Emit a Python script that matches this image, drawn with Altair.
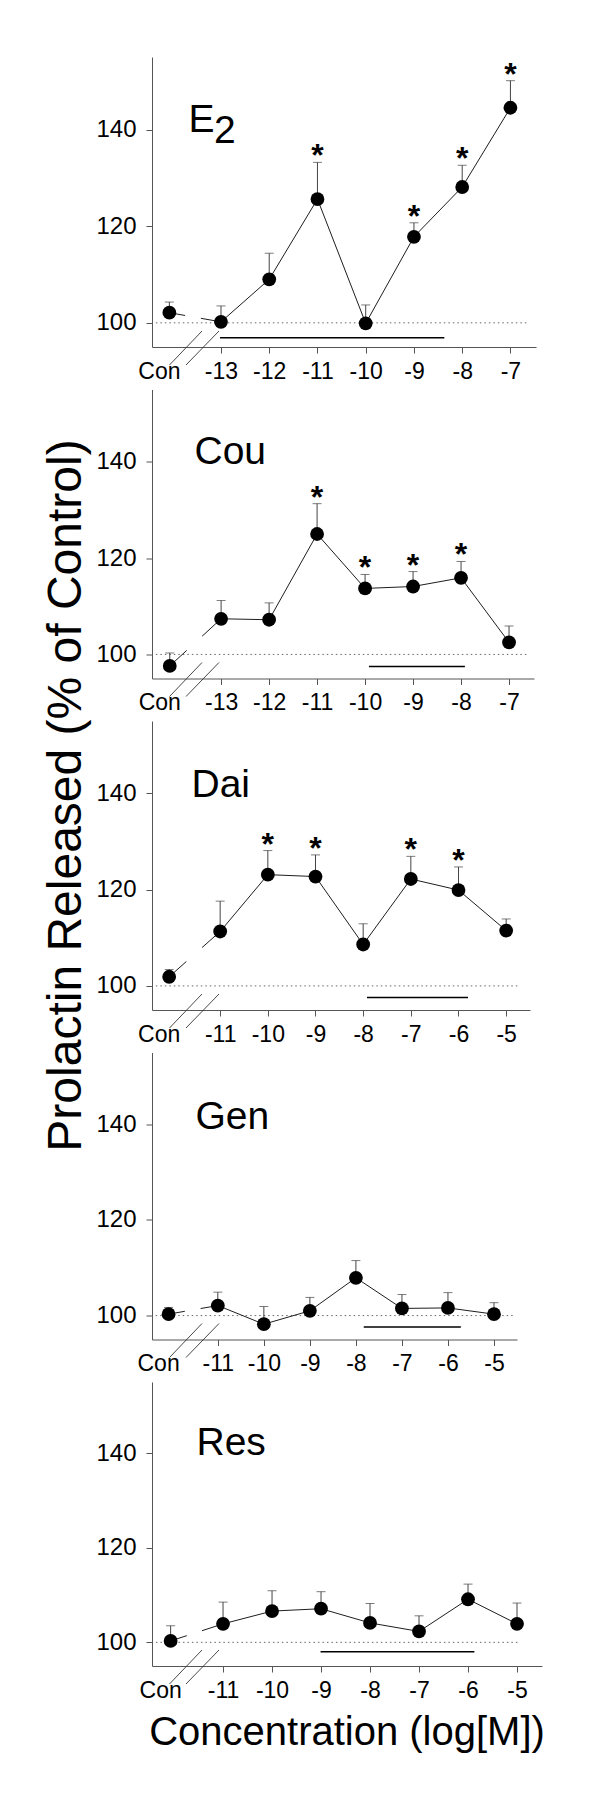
import altair as alt
import pandas as pd

FONT = "Liberation Sans"

# ---------------- data ----------------
panel_names = ["E2", "Cou", "Dai", "Gen", "Res"]

conc_e2 = [-13, -12, -11, -10, -9, -8, -7]
conc_phy = [-11, -10, -9, -8, -7, -6, -5]

e2_mean = [100.2, 109.0, 125.6, 99.9, 117.8, 128.1, 144.5]
e2_sem = [3.3, 5.4, 7.6, 3.8, 2.9, 4.5, 5.6]
cou_mean = [107.4, 107.2, 125.0, 113.7, 114.1, 115.9, 102.5]
cou_sem = [3.8, 3.5, 6.3, 2.9, 3.1, 3.4, 3.4]
dai_mean = [111.3, 123.1, 122.7, 108.6, 122.2, 119.9, 111.5]
dai_sem = [6.3, 5.0, 4.5, 4.3, 4.7, 4.8, 2.4]
gen_mean = [102.1, 98.2, 101.0, 107.9, 101.5, 101.6, 100.3]
gen_sem = [2.8, 3.7, 2.8, 3.6, 2.9, 3.2, 2.4]
res_mean = [103.9, 106.6, 107.1, 104.1, 102.3, 109.1, 103.9]
res_sem = [4.6, 4.3, 3.6, 4.1, 3.3, 3.2, 4.4]

control_mean = [102.1, 97.6, 101.9, 100.3, 100.3]
control_sem = [2.2, 2.7, 1.5, 1.4, 3.2]

e2_sig = [-11, -9, -8, -7]
cou_sig = [-11, -10, -9, -8]
dai_sig = [-10, -9, -7, -6]
gen_sig = []
res_sig = []

# exposure bar (start, end, level)
bar_start = [-13.02, -9.92, -7.92, -7.83, -9.01]
bar_end = [-8.37, -7.92, -5.80, -5.72, -5.87]
bar_level = [96.9, 97.5, 97.6, 97.6, 98.0]

# ---------------- layout / style ----------------
widths = [384, 382, 378, 365, 390]
heights = [290, 289, 289, 287, 284]
x_domains = [[-14.43, -6.47], [-14.44, -6.48], [-12.43, -4.5], [-12.43, -4.5], [-12.45, -4.49]]
con_offset = 1.07
dotted_end = [-6.65, -6.6, -4.71, -4.57, -4.96]
con_dash = [[16, 16, 80], [23, 21, 80], [23, 21, 80], [16.5, 16, 80], [17, 16, 80]]
title_x = [36.5, 42.5, 39.5, 43.5, 44.5]
title_y = [75, 74, 76, 76, 73]

LINE_COL = "#1e1e1e"
ERR_COL = "#444444"
AXIS_COL = "#555555"

concs = [conc_e2, conc_e2, conc_phy, conc_phy, conc_phy]
means = [e2_mean, cou_mean, dai_mean, gen_mean, res_mean]
sems = [e2_sem, cou_sem, dai_sem, gen_sem, res_sem]
sigs = [e2_sig, cou_sig, dai_sig, gen_sig, res_sig]


def make_panel(i):
    conc, mean, sem = concs[i], means[i], sems[i]
    w, h = widths[i], heights[i]
    con_x = conc[0] - con_offset
    df = pd.DataFrame({"x": conc, "y": mean, "top": [m + s for m, s in zip(mean, sem)]})
    con_df = pd.DataFrame({"x": [con_x], "y": [control_mean[i]],
                           "top": [control_mean[i] + control_sem[i]]})
    all_df = pd.concat([con_df, df], ignore_index=True)
    seg_df = all_df.iloc[:2]
    sig_df = df[df["x"].isin(sigs[i])]

    xs = alt.Scale(domain=x_domains[i], nice=False, zero=False)
    ys = alt.Scale(domain=[95, 155], nice=False, zero=False)
    xaxis = alt.Axis(values=conc, labelExpr="'' + datum.value", grid=False,
                     domainColor=AXIS_COL, tickColor=AXIS_COL, tickSize=6,
                     labelFont=FONT, labelFontSize=23, labelColor="black",
                     labelPadding=7, labelOverlap=False, labelFlush=False, title=None)
    yaxis = alt.Axis(values=[100, 120, 140], grid=False,
                     domainColor=AXIS_COL, tickColor=AXIS_COL, tickSize=6,
                     labelFont=FONT, labelFontSize=24, labelColor="black",
                     labelPadding=10, title=None)
    X = alt.X("x:Q", scale=xs, axis=xaxis)
    Y = alt.Y("y:Q", scale=ys, axis=yaxis)

    base = alt.Chart(all_df)
    one = alt.Chart(pd.DataFrame({"k": [0]}))

    dotted = one.mark_rule(color="#666666", strokeWidth=1, strokeDash=[1.5, 3]).encode(
        x=alt.datum(x_domains[i][0] + 0.08), x2=alt.datum(dotted_end[i]), y=alt.datum(100))
    bar = one.mark_rule(color="black", strokeWidth=1.6).encode(
        x=alt.datum(bar_start[i]), x2=alt.datum(bar_end[i]), y=alt.datum(bar_level[i]))
    brk1 = one.mark_rule(color="#333333", strokeWidth=0.9).encode(
        x=alt.value(17.5), x2=alt.value(50), y=alt.value(h + 18), y2=alt.value(h - 16))
    brk2 = one.mark_rule(color="#333333", strokeWidth=0.9).encode(
        x=alt.value(34), x2=alt.value(67), y=alt.value(h + 18), y2=alt.value(h - 16))
    err = base.mark_rule(color=ERR_COL, strokeWidth=1).encode(x=X, y=Y, y2="top:Q")
    cap = base.mark_tick(orient="horizontal", size=9, thickness=1, color=ERR_COL).encode(
        x="x:Q", y="top:Q")
    seg = alt.Chart(seg_df).mark_line(color=LINE_COL, strokeWidth=1, strokeDash=con_dash[i]).encode(
        x="x:Q", y="y:Q")
    line = alt.Chart(df).mark_line(color=LINE_COL, strokeWidth=1).encode(x="x:Q", y="y:Q")
    dots = base.mark_circle(size=190, color="black", opacity=1).encode(x="x:Q", y="y:Q")
    con_lbl = one.mark_text(text="Con", font=FONT, fontSize=23, align="center",
                            baseline="alphabetic", dx=-10, color="black").encode(
        x=alt.datum(con_x), y=alt.value(h + 31.5))

    layers = [dotted, bar, brk1, brk2, err, cap, seg, line, dots, con_lbl]

    if len(sig_df):
        stars = alt.Chart(sig_df).mark_text(text="*", font=FONT, fontSize=32, fontWeight="bold",
                                            baseline="alphabetic", dy=4, color="black").encode(
            x="x:Q", y="top:Q")
        layers.append(stars)

    name = panel_names[i]
    if name == "E2":
        layers.append(one.mark_text(text="E", font=FONT, fontSize=39, align="left",
                                    baseline="alphabetic", color="black").encode(
            x=alt.value(title_x[i]), y=alt.value(title_y[i])))
        layers.append(one.mark_text(text="2", font=FONT, fontSize=39, align="left",
                                    baseline="alphabetic", color="black").encode(
            x=alt.value(62), y=alt.value(86.3)))
    else:
        layers.append(one.mark_text(text=name, font=FONT, fontSize=39, align="left",
                                    baseline="alphabetic", color="black").encode(
            x=alt.value(title_x[i]), y=alt.value(title_y[i])))

    if i == 2:
        layers.append(one.mark_text(text="Prolactin Released (% of Control)", font=FONT,
                                    fontSize=48, angle=270, align="center",
                                    baseline="alphabetic", color="black").encode(
            x=alt.value(-71.5), y=alt.value(74.5)))
    if i == 4:
        layers.append(one.mark_text(text="Concentration (log[M])", font=FONT, fontSize=40,
                                    align="center", baseline="alphabetic", color="black").encode(
            x=alt.value(w / 2), y=alt.value(h + 78.5)))

    return alt.layer(*layers).properties(width=w, height=h)


chart = alt.vconcat(*[make_panel(i) for i in range(5)], spacing=42.5, bounds="flush").properties(
    padding={"left": 34, "top": 49, "right": 5, "bottom": 5},
    background="white",
).configure(font=FONT).configure_view(stroke=None)

chart.save("out.html", embed_options={"renderer": "svg", "actions": False})
